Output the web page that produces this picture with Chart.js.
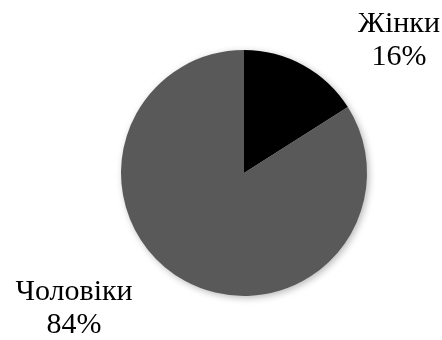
<!DOCTYPE html>
<html><head><meta charset="utf-8">
<script src="https://cdn.jsdelivr.net/npm/chart.js@4"></script>
<style>html,body{margin:0;padding:0;background:#fff;}canvas{display:block;}</style>
</head><body>
<canvas id="c" width="442" height="340"></canvas>
<script>
const categories = ['Жінки', 'Чоловіки'];
const values = [16, 84];
const percentLabels = ['16%', '84%'];
const colors = ['#000000', '#595959'];

const labelOffsets = [{dx: 155, dy: -141}, {dx: -170, dy: 127}];

const shadowPlugin = {
  id: 'shadow',
  beforeDatasetsDraw(chart) {
    const ctx = chart.ctx;
    ctx.save();
    ctx.shadowColor = 'rgba(0,0,0,0.28)';
    ctx.shadowBlur = 7;
    ctx.shadowOffsetX = 2;
    ctx.shadowOffsetY = 2;
  },
  afterDatasetsDraw(chart) {
    chart.ctx.restore();
  }
};

const labelPlugin = {
  id: 'labels',
  afterDraw(chart) {
    const ctx = chart.ctx;
    const meta = chart.getDatasetMeta(0);
    ctx.save();
    ctx.fillStyle = '#000';
    ctx.font = '30px "Liberation Serif", "Times New Roman", serif';
    ctx.textAlign = 'center';
    ctx.textBaseline = 'alphabetic';
    meta.data.forEach((arc, i) => {
      const x = arc.x + labelOffsets[i].dx;
      const y = arc.y + labelOffsets[i].dy;
      ctx.fillText(categories[i], x, y);
      ctx.fillText(percentLabels[i], x, y + 33);
    });
    ctx.restore();
  }
};

new Chart(document.getElementById('c'), {
  type: 'pie',
  data: {
    labels: categories,
    datasets: [{ data: values, backgroundColor: colors, borderWidth: 0 }]
  },
  options: {
    responsive: false,
    animation: false,
    layout: { padding: { left: 121, right: 75, top: 50, bottom: 44 } },
    plugins: { legend: { display: false }, tooltip: { enabled: false } }
  },
  plugins: [shadowPlugin, labelPlugin]
});
</script>
</body></html>
